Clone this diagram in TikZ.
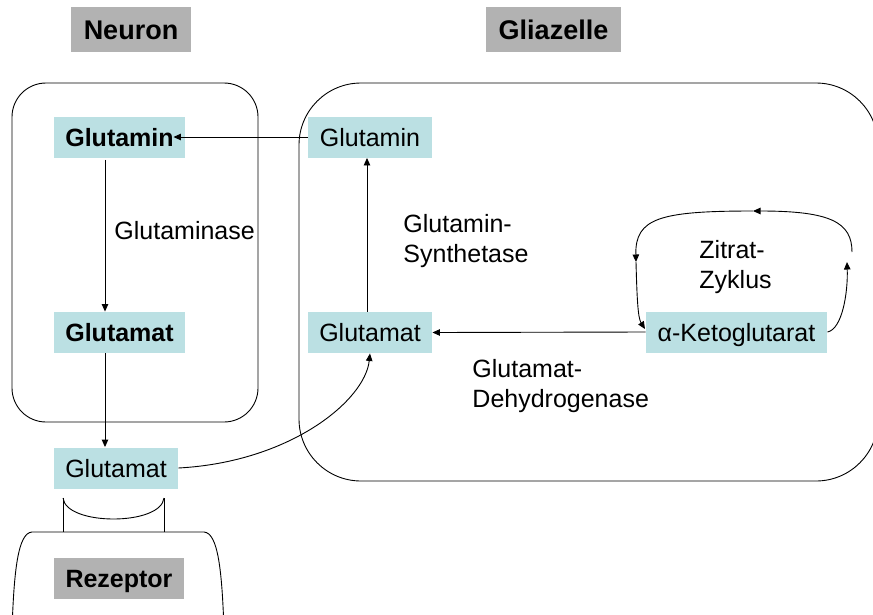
\documentclass[tikz,border=0pt]{standalone}
\usepackage{fontspec}
\setmainfont{Liberation Sans}
\usetikzlibrary{arrows.meta}
\definecolor{lblue}{HTML}{BBE0E3}
\definecolor{tgray}{HTML}{B2B2B2}
\begin{document}
\begin{tikzpicture}[x=1pt,y=-1pt,
  line width=0.9pt,
  arr/.style={-{Triangle[length=7.5pt,width=6.5pt]}},
  box/.style={fill=lblue, text height=18pt, text depth=0pt, minimum height=41pt, inner sep=0pt, font=\fontsize{25}{30}\selectfont},
  bbox/.style={box, font=\fontsize{25}{30}\selectfont\bfseries},
  title/.style={fill=tgray, text height=19.5pt, text depth=0pt, minimum height=45pt, inner sep=0pt, font=\fontsize{27}{32}\selectfont\bfseries},
  lbl/.style={anchor=base west, inner sep=0pt, font=\fontsize{25}{30}\selectfont}
]
\useasboundingbox (0,0) rectangle (873,614);
\clip (0,0) rectangle (873,614);

% cells
\draw[rounded corners=34pt] (12,83) rectangle (258,422);
\draw[rounded corners=62pt] (299,83) rectangle (878,481);

% receptor
\draw (12,630) .. controls (14,570) and (18,533) .. (32,532) -- (204,532) .. controls (218,533) and (222,570) .. (224,630);
\draw (63,498) -- (63,532);
\draw (164,498) -- (164,532);
\draw (63,498) .. controls (66,526) and (161,526) .. (164,498);

% titles
\node[title, minimum width=120pt] (tneuron) at (131,29.5) {Neuron};
\node[title, minimum width=135pt] (tglia) at (553.5,29.5) {Gliazelle};

% nodes
\node[bbox, minimum width=131pt] (nglutamin) at (119.5,137) {Glutamin};
\node[bbox, minimum width=131pt] (nglutamat) at (119.5,332.5) {Glutamat};
\node[box, minimum width=124pt] (gglutamin) at (370,137) {Glutamin};
\node[box, minimum width=124pt] (gglutamat) at (370,332.5) {Glutamat};
\node[box, minimum width=181pt] (keto) at (736.5,332) {α-Ketoglutarat};
\node[box, minimum width=124pt] (bglutamat) at (116,468) {Glutamat};
\node[bbox, fill=tgray, minimum width=130pt] (rezeptor) at (119,578.5) {Rezeptor};

% labels
\node[lbl] (lglutaminase) at (114,239) {Glutaminase};
\node[lbl] (lsynth) at (403,232) {\begin{tabular}[t]{@{}l@{}}Glutamin-\\Synthetase\end{tabular}};
\node[lbl] (lzitrat) at (699,258) {\begin{tabular}[t]{@{}l@{}}Zitrat-\\Zyklus\end{tabular}};
\node[lbl] (ldehyd) at (472,377) {\begin{tabular}[t]{@{}l@{}}Glutamat-\\Dehydrogenase\end{tabular}};

% connectors
\draw[arr] (gglutamin.west) -- ([xshift=-12pt]nglutamin.east);
\draw[arr] ([xshift=-14.5pt,yshift=-2pt]nglutamin.south) -- ([xshift=-14.5pt]nglutamat.north);
\draw[arr] ([xshift=-14.5pt]nglutamat.south) -- ([xshift=-11pt]bglutamat.north);
\draw[arr] (bglutamat.east) .. controls +(112,-6) and +(-5,47) .. (gglutamat.south);
\draw[arr] ([xshift=-3pt]gglutamat.north) -- ([xshift=-3pt]gglutamin.south);
\draw[arr] (keto.west) -- (gglutamat.east);

% citric acid cycle
\coordinate (c1) at (847,262);
\coordinate (c2) at (852,252);
\coordinate (c3) at (753,211);
\coordinate (c4) at (636,262);
\coordinate (c5) at (645,329);
\draw[arr] (keto.east) .. controls +(15,-3) and +(1,30) .. (c1);
\draw[arr] (c2) .. controls (852,222) and (830,211) .. (c3);
\draw[arr] (c3) .. controls (660,211) and (635,218) .. (c4);
\draw[arr] (c4) .. controls (637,300) and (638,318) .. (c5);
\end{tikzpicture}
\end{document}
